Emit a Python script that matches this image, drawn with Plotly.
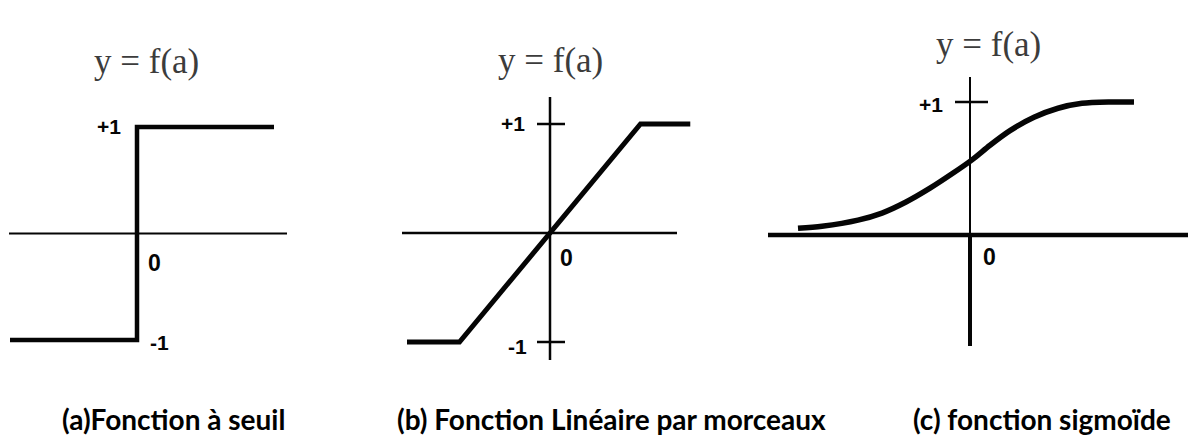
import plotly.graph_objects as go

# (a) fonction a seuil
step_x = [-1.27, 0, 0, 1.37]
step_y = [-1, -1, 1, 1]

# (b) lineaire par morceaux
ramp_x = [-1.58, -1.0, 1.0, 1.55]
ramp_y = [-1, -1, 1, 1]

# (c) sigmoide, points
sig_x = [-4.3, -3.7, -2.8, -2.2, -1.6, -1.0, -0.45, 0.05, 0.5, 1.0, 1.6, 2.2, 2.8, 3.5, 4.1]
sig_y = [0.05, 0.066, 0.112, 0.165, 0.248, 0.352, 0.46, 0.565, 0.675, 0.785, 0.885, 0.953, 0.99, 1.0, 1.0]

tick_vals = [1, -1]
tick_text = ["+1", "-1"]
titles = ["(a)Fonction à seuil", "(b) Fonction Linéaire par morceaux", "(c) fonction sigmoïde"]
func_label = "y = f(a)"

W, H = 1188, 437
INK = "#050505"

# pixel boxes for the three panels: left, right, top, bottom, origin x/y, px per unit x/y
panels = [
    dict(l=0, r=390, t=20, b=385, ox=137, oy=233.5, sx=100, sy=106.5),
    dict(l=390, r=760, t=20, b=385, ox=550, oy=233, sx=90.5, sy=109),
    dict(l=760, r=1188, t=20, b=385, ox=970, oy=235, sx=40, sy=133),
]


def px2x(p, v):
    return (v - p["ox"]) / p["sx"]


def px2y(p, v):
    return (p["oy"] - v) / p["sy"]


fig = go.Figure()
layout = {}
for i, p in enumerate(panels, start=1):
    sfx = "" if i == 1 else str(i)
    layout["xaxis" + sfx] = dict(domain=[p["l"] / W, p["r"] / W],
                                 range=[px2x(p, p["l"]), px2x(p, p["r"])],
                                 visible=False, fixedrange=True, anchor="y" + sfx)
    layout["yaxis" + sfx] = dict(domain=[1 - p["b"] / H, 1 - p["t"] / H],
                                 range=[px2y(p, p["b"]), px2y(p, p["t"])],
                                 visible=False, fixedrange=True, anchor="x" + sfx)

fig.add_trace(go.Scatter(x=step_x, y=step_y, mode="lines", xaxis="x", yaxis="y",
                         line=dict(color=INK, width=4.5)))
fig.add_trace(go.Scatter(x=ramp_x, y=ramp_y, mode="lines", xaxis="x2", yaxis="y2",
                         line=dict(color=INK, width=5)))
fig.add_trace(go.Scatter(x=sig_x, y=sig_y, mode="lines", xaxis="x3", yaxis="y3",
                         line=dict(color=INK, width=5.5, shape="spline", smoothing=0.8)))

shapes = []


def hline(ref, p, px0, px1, w):
    shapes.append(dict(type="line", xref="x" + ref, yref="y" + ref,
                       x0=px2x(p, px0), x1=px2x(p, px1), y0=0, y1=0,
                       line=dict(color=INK, width=w), layer="below"))


def vline(ref, p, py0, py1, w):
    shapes.append(dict(type="line", xref="x" + ref, yref="y" + ref,
                       x0=0, x1=0, y0=px2y(p, py0), y1=px2y(p, py1),
                       line=dict(color=INK, width=w), layer="below"))


pa, pb, pc = panels
hline("", pa, 9, 287, 2)
hline("2", pb, 402, 677, 2.5)
vline("2", pb, 97, 360, 2.5)
hline("3", pc, 768, 1188, 4.5)
vline("3", pc, 77, 235, 2)
vline("3", pc, 235, 346, 4)

# small tick marks on the vertical axes
for v in tick_vals:
    shapes.append(dict(type="line", xref="x2", yref="y2", xsizemode="pixel", xanchor=0,
                       x0=-13, x1=15, y0=v, y1=v, line=dict(color=INK, width=2.5)))
shapes.append(dict(type="line", xref="x3", yref="y3", xsizemode="pixel", xanchor=0,
                   x0=-15, x1=18, y0=tick_vals[0], y1=tick_vals[0],
                   line=dict(color=INK, width=2.5)))

tick_font = dict(family="Liberation Sans", size=21, color=INK)
ann = []


def label(ref, x, y, text, xanchor, xshift, yshift, size=21):
    ann.append(dict(xref="x" + ref, yref="y" + ref, x=x, y=y, text="<b>%s</b>" % text,
                    showarrow=False, xanchor=xanchor, yanchor="middle",
                    xshift=xshift, yshift=yshift, font=dict(tick_font, size=size)))


label("", 0, tick_vals[0], tick_text[0], "right", -14, 0)
label("", 0, tick_vals[1], tick_text[1], "left", 11, -2)
label("", 0, 0, "0", "left", 9, -29, 23)
label("2", 0, tick_vals[0], tick_text[0], "right", -23, 0)
label("2", 0, tick_vals[1], tick_text[1], "right", -21, -4)
label("2", 0, 0, "0", "left", 8, -25, 23)
label("3", 0, tick_vals[0], tick_text[0], "right", -25, -3)
label("3", 0, 0, "0", "left", 11, -22, 23)

for cx, cy in [(146, 62), (550, 60), (988, 44)]:
    ann.append(dict(xref="paper", yref="paper", x=cx / W, y=1 - cy / H, text=func_label,
                    showarrow=False, xanchor="center", yanchor="middle",
                    font=dict(family="Liberation Serif", size=35, color="#3c3c3c")))

for cx, t in zip([173, 611, 1042], titles):
    ann.append(dict(xref="paper", yref="paper", x=cx / W, y=1 - 419 / H, text="<b>%s</b>" % t,
                    showarrow=False, xanchor="center", yanchor="middle",
                    font=dict(family="Lato", size=28, color="#000000")))

fig.update_layout(**layout)
fig.update_layout(width=W, height=H, margin=dict(l=0, r=0, t=0, b=0),
                  paper_bgcolor="white", plot_bgcolor="white", showlegend=False,
                  shapes=shapes, annotations=ann)
fig.write_html("out.html", config=dict(displayModeBar=False),
               post_script="document.body.style.margin='0';")
